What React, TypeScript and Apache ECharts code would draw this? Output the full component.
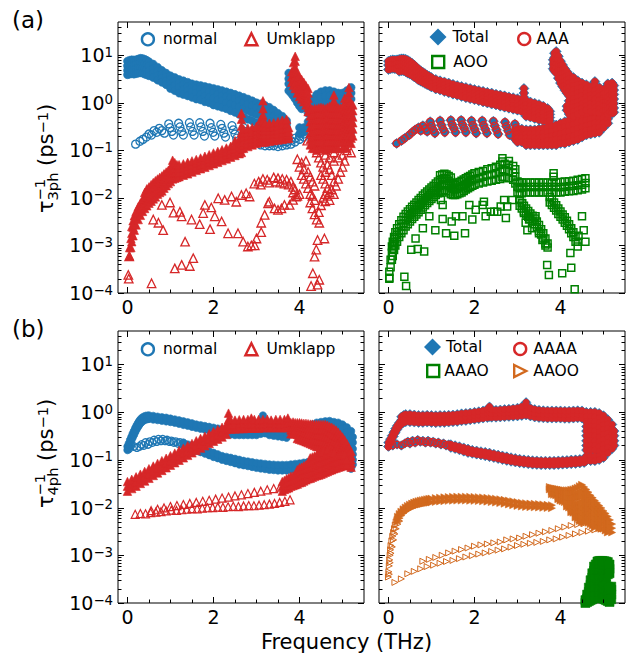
import React, { useEffect, useRef } from 'react';
import * as echarts from 'echarts';

const FONT = '"DejaVu Sans", sans-serif';
const BLUE = '#1f77b4';
const RED = '#d62728';
const GREEN = '#008000';
const ORANGE = '#d2691e';
const RTRI = 'path://M0,0L10,5L0,10Z';

const X_MIN = -0.22;
const X_MAX = 5.5;
const Y_MIN = 1e-4;
const Y_MAX = 50;
const xTickLabels = [0, 2, 4];
const xMinorTicks = [0.5, 1, 1.5, 2.5, 3, 3.5, 4.5, 5];
const yTickExponents = [-4, -3, -2, -1, 0, 1];
const yMinorMantissas = [2, 3, 4, 5, 6, 7, 8, 9];

// ---------- (a) left : 3ph normal / Umklapp ----------
const n3BandRows = [
  [0.0, 7.5, 6.0, 4.8, 3.9], [0.05, 7.8, 6.2, 5.0, 4.0], [0.1, 8.0, 6.5, 5.1, 4.1], [0.15, 7.9, 6.3, 5.0, 4.0],
  [0.2, 8.0, 6.5, 5.2, 4.1], [0.25, 8.3, 6.7, 5.4, 4.2], [0.3, 8.6, 7.0, 5.5, 4.3], [0.35, 8.5, 6.9, 5.4, 4.2],
  [0.4, 8.2, 6.7, 5.2, 4.0], [0.45, 7.8, 6.3, 5.0, 3.9], [0.5, 7.3, 6.0, 4.7, 3.7], [0.6, 6.5, 5.2, 4.2, 3.4],
  [0.7, 5.6, 4.6, 3.7, 3.0], [0.8, 4.8, 4.0, 3.3, 2.7], [0.9, 4.2, 3.5, 2.9, 2.4], [1.0, 3.7, 3.1, 2.5, 2.0],
  [1.1, 3.4, 2.8, 2.3, 1.8], [1.2, 3.1, 2.6, 2.1, 1.6], [1.3, 2.9, 2.4, 1.9, 1.5], [1.4, 2.7, 2.2, 1.8, 1.4],
  [1.5, 2.5, 2.1, 1.7, 1.3], [1.6, 2.4, 2.0, 1.6, 1.2], [1.7, 2.3, 1.9, 1.5, 1.15], [1.8, 2.2, 1.8, 1.4, 1.05],
  [1.9, 2.1, 1.7, 1.3, 1.0], [2.0, 2.0, 1.6, 1.25, 0.9], [2.1, 1.9, 1.5, 1.15, 0.85], [2.2, 1.8, 1.4, 1.1, 0.8],
  [2.3, 1.7, 1.35, 1.0, 0.75], [2.4, 1.6, 1.3, 0.95, 0.68], [2.5, 1.5, 1.2, 0.9, 0.63], [2.6, 1.4, 1.1, 0.82, 0.57],
  [2.7, 1.3, 1.0, 0.75, 0.5], [2.8, 1.2, 0.95, 0.68, 0.45], [2.9, 1.1, 0.88, 0.62, 0.42], [3.0, 1.0, 0.8, 0.57, 0.38],
  [3.1, 0.95, 0.72, 0.52, 0.35], [3.2, 0.88, 0.66, 0.47, 0.33], [3.3, 0.8, 0.6, 0.43, 0.31], [3.4, 0.7, 0.53, 0.4, 0.29],
  [3.5, 0.6, 0.47, 0.36, 0.27], [3.6, 0.52, 0.42, 0.33], [3.7, 0.42, 0.36, 0.3],
  [3.75, 4.2, 3.2, 2.5, 1.8], [3.8, 4.0, 3.0, 2.2, 1.6], [3.85, 3.5, 2.6, 1.9, 1.4], [3.9, 3.0, 2.2, 1.6, 1.2],
  [3.95, 2.5, 1.8, 1.3, 1.0], [4.0, 2.0, 1.5, 1.1, 0.85, 0.3, 0.22], [4.05, 1.6, 1.2, 0.9, 0.75],
  [4.1, 1.2, 0.95, 0.8, 0.3, 0.24], [4.2, 1.0, 0.8, 0.6, 0.4, 0.3], [4.3, 1.2, 0.9, 0.6, 0.4, 0.3],
  [4.4, 1.5, 1.1, 0.8, 0.55, 0.4, 0.3], [4.5, 1.7, 1.3, 0.9, 0.6, 0.4, 0.3], [4.6, 1.8, 1.4, 1.0, 0.7, 0.5, 0.35],
  [4.7, 1.8, 1.4, 1.0, 0.7, 0.5, 0.35, 0.25], [4.8, 1.7, 1.3, 0.9, 0.65, 0.45, 0.3], [4.9, 1.6, 1.2, 0.9, 0.6, 0.4, 0.3],
  [5.0, 1.6, 1.2, 0.9, 0.6, 0.4, 0.3], [5.1, 1.8, 1.4, 1.0, 0.7, 0.5, 0.35], [5.2, 2.1, 1.6, 1.2, 0.8, 0.5, 0.35, 0.25],
];
const n3LoosePts = [
  [0.19, 0.135], [0.29, 0.155], [0.36, 0.17], [0.44, 0.19], [0.5, 0.22], [0.56, 0.21], [0.62, 0.26], [0.68, 0.24],
  [0.74, 0.29], [0.8, 0.26], [0.86, 0.23], [0.96, 0.36], [0.99, 0.3], [1.03, 0.25], [1.07, 0.21], [1.19, 0.37],
  [1.22, 0.31], [1.26, 0.25], [1.3, 0.21], [1.44, 0.38], [1.47, 0.31], [1.51, 0.25], [1.55, 0.21], [1.68, 0.38],
  [1.71, 0.31], [1.75, 0.25], [1.79, 0.2], [1.92, 0.37], [1.95, 0.3], [1.99, 0.24], [2.03, 0.2], [2.17, 0.35],
  [2.2, 0.29], [2.24, 0.23], [2.28, 0.19], [2.43, 0.33], [2.46, 0.27], [2.5, 0.22], [2.54, 0.18], [2.7, 0.3],
  [2.73, 0.25], [2.77, 0.2], [2.81, 0.17], [2.93, 0.26], [2.96, 0.21], [3.0, 0.17], [3.04, 0.15], [3.1, 0.16],
  [3.1, 0.13], [3.2, 0.15], [3.2, 0.125], [3.3, 0.14], [3.3, 0.125], [3.4, 0.15], [3.4, 0.125], [3.5, 0.14],
  [3.5, 0.12], [3.6, 0.15], [3.6, 0.125], [3.7, 0.15], [3.7, 0.13], [3.8, 0.16], [3.8, 0.135], [3.9, 0.18],
  [3.9, 0.15], [4.0, 0.2], [4.0, 0.17], [4.1, 0.22], [4.1, 0.19],
];
const u3BandRows = [
  [0.05, 0.0006, 0.0009], [0.08, 0.0009, 0.0014], [0.1, 0.0012, 0.0018, 0.0025], [0.13, 0.0016, 0.0024, 0.0033],
  [0.16, 0.0021, 0.003, 0.0042], [0.2, 0.0027, 0.0038, 0.0052], [0.25, 0.0035, 0.0048, 0.0065], [0.3, 0.0043, 0.0058, 0.0078],
  [0.35, 0.0052, 0.007, 0.0092], [0.4, 0.006, 0.008, 0.0105, 0.013], [0.45, 0.0068, 0.009, 0.012, 0.0155],
  [0.5, 0.0077, 0.01, 0.013, 0.017], [0.55, 0.0085, 0.011, 0.0145, 0.019], [0.6, 0.0095, 0.0125, 0.016, 0.021],
  [0.65, 0.0105, 0.0135, 0.0175, 0.023], [0.7, 0.012, 0.015, 0.019, 0.025], [0.75, 0.013, 0.0165, 0.021, 0.027],
  [0.8, 0.014, 0.018, 0.023, 0.029], [0.85, 0.016, 0.02, 0.025, 0.032], [0.9, 0.018, 0.022, 0.028, 0.035],
  [0.95, 0.02, 0.025, 0.031, 0.038], [1.0, 0.022, 0.028, 0.035, 0.044], [1.05, 0.025, 0.032, 0.04, 0.05, 0.062],
  [1.1, 0.026, 0.033, 0.042, 0.055], [1.15, 0.027, 0.033, 0.041, 0.05], [1.2, 0.028, 0.034, 0.042, 0.05],
  [1.3, 0.03, 0.036, 0.044, 0.052], [1.4, 0.032, 0.039, 0.047, 0.056], [1.5, 0.035, 0.042, 0.05, 0.06],
  [1.6, 0.038, 0.045, 0.054, 0.064], [1.7, 0.041, 0.049, 0.058, 0.069], [1.8, 0.044, 0.053, 0.063, 0.075],
  [1.9, 0.048, 0.057, 0.068, 0.081], [2.0, 0.052, 0.062, 0.074, 0.088], [2.1, 0.056, 0.067, 0.08, 0.095],
  [2.2, 0.061, 0.073, 0.087, 0.103], [2.3, 0.066, 0.079, 0.094, 0.112], [2.4, 0.072, 0.086, 0.102, 0.122],
  [2.5, 0.078, 0.093, 0.11, 0.132, 0.16], [2.6, 0.085, 0.1, 0.12, 0.145, 0.175],
  [2.65, 0.09, 0.11, 0.14, 0.18, 0.24, 0.32, 0.45, 0.6], [2.7, 0.11, 0.13, 0.155, 0.19, 0.23, 0.28],
  [2.8, 0.12, 0.14, 0.165, 0.2, 0.24, 0.29], [2.9, 0.13, 0.15, 0.175, 0.21, 0.25, 0.3],
  [3.0, 0.14, 0.16, 0.185, 0.22, 0.26, 0.32], [3.1, 0.15, 0.17, 0.2, 0.24, 0.29, 0.35, 0.45],
  [3.15, 0.15, 0.18, 0.21, 0.26, 0.32, 0.42, 0.55, 0.75, 1.1], [3.2, 0.15, 0.18, 0.21, 0.26, 0.31, 0.38],
  [3.3, 0.155, 0.18, 0.21, 0.26, 0.31, 0.37], [3.4, 0.16, 0.185, 0.22, 0.26, 0.32, 0.38],
  [3.5, 0.165, 0.19, 0.225, 0.27, 0.33, 0.4], [3.6, 0.17, 0.195, 0.23, 0.28, 0.35, 0.43],
  [3.7, 0.175, 0.2, 0.24, 0.29, 0.36, 0.45], [3.75, 0.18, 0.21, 0.25, 0.3],
  [3.82, 4.5, 3.5, 2.7], [3.86, 7.0, 5.0, 4.0, 3.0, 2.3], [3.9, 9.5, 7.5, 5.5, 4.3, 3.4, 2.6, 2.0],
  [3.95, 4.2, 3.3, 2.6, 2.0, 1.6], [4.0, 3.6, 2.8, 2.2, 1.7, 1.35], [4.05, 3.1, 2.4, 1.9, 1.5, 1.2],
  [4.1, 2.7, 2.1, 1.65, 1.3, 1.05], [4.15, 2.3, 1.8, 1.45, 1.15, 0.9], [4.2, 2.0, 1.6, 1.25, 1.0, 0.8, 0.65],
  [4.25, 0.7, 0.53, 0.4, 0.3, 0.23, 0.17, 0.13], [4.3, 0.72, 0.55, 0.42, 0.32, 0.24, 0.18, 0.14, 0.11],
  [4.35, 0.75, 0.57, 0.43, 0.33, 0.25, 0.19, 0.14, 0.11], [4.4, 0.75, 0.57, 0.43, 0.33, 0.25, 0.19, 0.14, 0.1],
  [4.45, 0.78, 0.6, 0.45, 0.34, 0.26, 0.2, 0.15, 0.11], [4.5, 0.8, 0.6, 0.45, 0.34, 0.26, 0.2, 0.15, 0.11],
  [4.55, 0.78, 0.6, 0.45, 0.34, 0.26, 0.2, 0.15, 0.11], [4.6, 0.75, 0.57, 0.43, 0.33, 0.25, 0.19, 0.14, 0.1],
  [4.65, 0.8, 0.6, 0.45, 0.34, 0.26, 0.2, 0.15, 0.11], [4.7, 0.85, 0.64, 0.48, 0.36, 0.27, 0.2, 0.15, 0.11],
  [4.75, 0.8, 0.6, 0.45, 0.34, 0.26, 0.2, 0.15, 0.11], [4.8, 1.45, 1.1, 0.8, 0.6, 0.45, 0.34, 0.26, 0.2, 0.15, 0.11],
  [4.85, 0.8, 0.6, 0.45, 0.34, 0.26, 0.2, 0.15, 0.11], [4.9, 0.78, 0.6, 0.45, 0.34, 0.26, 0.2, 0.15, 0.11],
  [4.95, 0.78, 0.6, 0.45, 0.34, 0.26, 0.2, 0.15], [5.0, 0.8, 0.6, 0.45, 0.34, 0.26, 0.2, 0.15, 0.11],
  [5.05, 1.25, 0.95, 0.72, 0.55, 0.42, 0.32, 0.24, 0.18, 0.13], [5.1, 0.85, 0.64, 0.48, 0.36, 0.27, 0.2, 0.15, 0.11],
  [5.15, 2.1, 1.6, 1.2, 0.9, 0.68, 0.5, 0.38, 0.28, 0.2, 0.15], [5.2, 1.0, 0.75, 0.56, 0.42, 0.32, 0.24, 0.18, 0.14],
  [5.24, 0.9, 0.68, 0.5, 0.38, 0.28, 0.2],
];
const u3LoosePts = [
  [0.02, 0.00024], [0.03, 0.0002], [0.04, 0.00059], [0.56, 0.00016], [0.6, 0.0035], [0.72, 0.003], [0.8, 0.0071],
  [0.83, 0.0021], [0.99, 0.008], [1.07, 0.0049], [1.1, 0.00033], [1.22, 0.0051], [1.26, 0.0041], [1.26, 0.00039],
  [1.34, 0.0012], [1.45, 0.00037], [1.49, 0.0035], [1.53, 0.00054], [1.68, 0.0028], [1.76, 0.0048], [1.8, 0.0071],
  [1.92, 0.0022], [1.95, 0.0063], [2.03, 0.0041], [2.11, 0.0098], [2.19, 0.0032], [2.26, 0.0091], [2.34, 0.0018],
  [2.42, 0.0107], [2.53, 0.0083], [2.57, 0.0018], [2.65, 0.0115], [2.69, 0.0012], [2.76, 0.0125], [2.8, 0.00095],
  [2.84, 0.0107], [2.88, 0.001], [2.96, 0.001], [3.0, 0.0014], [3.11, 0.003], [3.11, 0.0019], [3.19, 0.0044],
  [3.27, 0.0077], [3.3, 0.0083], [3.42, 0.006], [3.5, 0.0056], [3.58, 0.006], [3.65, 0.0071], [3.77, 0.0071],
  [3.85, 0.0091], [3.92, 0.0107], [4.31, 0.00026], [4.35, 0.00058], [4.39, 0.00082], [4.42, 0.0013], [4.46, 0.003],
  [4.58, 0.0014], [4.46, 0.00019], [4.27, 0.00014], [4.42, 0.00015],
  [2.95, 0.02], [3.05, 0.022], [3.1, 0.019], [3.15, 0.025], [3.25, 0.024], [3.3, 0.021], [3.4, 0.027], [3.45, 0.022],
  [3.5, 0.026], [3.55, 0.021], [3.6, 0.025], [3.65, 0.02], [3.7, 0.024], [3.75, 0.019], [3.8, 0.022], [3.85, 0.017],
  [3.85, 0.013], [3.9, 0.015], [3.95, 0.011], [4.0, 0.012], [3.95, 0.065], [4.0, 0.045], [4.05, 0.055], [4.1, 0.04],
  [4.15, 0.06], [4.2, 0.035], [4.05, 0.03], [4.1, 0.025], [4.15, 0.02], [4.2, 0.016], [4.25, 0.028], [4.3, 0.022],
  [4.35, 0.018], [4.25, 0.012], [4.3, 0.011], [4.35, 0.009], [4.4, 0.09], [4.45, 0.07], [4.5, 0.055], [4.55, 0.045],
  [4.6, 0.035], [4.5, 0.03], [4.55, 0.025], [4.6, 0.02], [4.65, 0.016], [4.7, 0.013], [4.65, 0.05], [4.7, 0.04],
  [4.75, 0.03], [4.8, 0.022], [4.6, 0.012], [4.7, 0.009], [4.6, 0.08], [4.7, 0.07], [4.8, 0.06], [4.9, 0.07],
  [4.8, 0.09], [5.0, 0.08], [5.1, 0.1], [5.2, 0.09], [4.18, 0.16], [4.3, 0.006], [4.35, 0.0045], [4.25, 0.008],
  [4.4, 0.0035], [4.45, 0.005], [4.5, 0.007], [4.55, 0.01], [4.6, 0.0085], [4.65, 0.011], [4.75, 0.015], [4.8, 0.012],
  [4.85, 0.018], [4.9, 0.025], [4.95, 0.035], [5.0, 0.045], [5.05, 0.06],
];

// ---------- (a) right : Total / AAA / AOO ----------
const aaaBandRows = [
  [0.0, 7.5, 6.2, 5.0], [0.05, 7.8, 6.4, 5.2], [0.1, 8.0, 6.5, 5.3], [0.15, 7.9, 6.4, 5.2], [0.2, 8.0, 6.6, 5.4],
  [0.25, 8.2, 6.8, 5.6, 4.6], [0.3, 8.4, 7.0, 5.8, 4.7], [0.35, 8.4, 7.0, 5.8, 4.7], [0.4, 8.2, 6.8, 5.5, 4.5],
  [0.45, 7.8, 6.4, 5.2, 4.2], [0.5, 7.3, 6.0, 4.9, 4.0], [0.55, 6.8, 5.6, 4.6, 3.8], [0.6, 6.2, 5.1, 4.2, 3.5],
  [0.65, 5.6, 4.7, 3.9, 3.3], [0.7, 5.1, 4.3, 3.6, 3.0], [0.75, 4.7, 4.0, 3.4, 2.85], [0.8, 4.4, 3.7, 3.2, 2.7],
  [0.85, 4.1, 3.5, 3.0, 2.55], [0.9, 3.8, 3.3, 2.8, 2.4], [0.95, 3.6, 3.1, 2.65, 2.3], [1.0, 3.4, 2.95, 2.5, 2.15],
  [1.1, 3.1, 2.7, 2.3, 1.95], [1.2, 2.9, 2.5, 2.15, 1.85], [1.3, 2.75, 2.35, 2.0, 1.72], [1.4, 2.6, 2.2, 1.9, 1.62],
  [1.5, 2.45, 2.1, 1.8, 1.52], [1.6, 2.3, 1.98, 1.7, 1.44], [1.7, 2.2, 1.88, 1.6, 1.36], [1.8, 2.1, 1.78, 1.52, 1.28],
  [1.9, 2.0, 1.7, 1.44, 1.22], [2.0, 1.9, 1.62, 1.37, 1.16], [2.1, 1.82, 1.55, 1.3, 1.1], [2.2, 1.74, 1.48, 1.24, 1.04],
  [2.3, 1.66, 1.41, 1.18, 0.99], [2.4, 1.6, 1.35, 1.13, 0.94], [2.5, 1.52, 1.28, 1.07, 0.9], [2.6, 1.46, 1.22, 1.02, 0.85],
  [2.7, 1.4, 1.17, 0.98, 0.81], [2.8, 1.33, 1.11, 0.93, 0.77], [2.9, 1.28, 1.06, 0.88, 0.73], [3.0, 1.22, 1.01, 0.84, 0.7],
  [3.1, 1.16, 0.96, 0.8, 0.66], [3.15, 2.0, 1.6, 1.3, 1.05, 0.85], [3.2, 1.1, 0.91, 0.76, 0.63, 0.52],
  [3.3, 1.04, 0.86, 0.72, 0.6, 0.5], [3.4, 0.98, 0.81, 0.68, 0.56, 0.47], [3.5, 0.92, 0.76, 0.64, 0.53, 0.44],
  [3.6, 0.85, 0.71, 0.6, 0.5, 0.42], [3.7, 0.76, 0.65, 0.55, 0.47, 0.4], [3.75, 0.66, 0.57, 0.49, 0.42],
  [2.95, 0.26, 0.21, 0.17], [3.0, 0.28, 0.22, 0.18, 0.15], [3.1, 0.28, 0.22, 0.18, 0.15], [3.2, 0.27, 0.22, 0.18, 0.15, 0.13],
  [3.3, 0.27, 0.22, 0.18, 0.15, 0.13], [3.4, 0.27, 0.22, 0.18, 0.15, 0.13], [3.5, 0.28, 0.23, 0.18, 0.15, 0.13],
  [3.6, 0.29, 0.23, 0.19, 0.15, 0.13], [3.7, 0.3, 0.24, 0.19, 0.16, 0.13], [3.8, 0.32, 0.25, 0.2, 0.16, 0.13],
  [3.9, 0.34, 0.27, 0.21, 0.17, 0.13], [4.0, 0.37, 0.29, 0.22, 0.17, 0.14], [4.1, 0.4, 0.31, 0.24, 0.18, 0.14],
  [4.2, 0.43, 0.33, 0.25, 0.19, 0.15], [4.3, 0.46, 0.35, 0.27, 0.2, 0.16], [4.4, 0.5, 0.38, 0.29, 0.22, 0.17],
  [4.5, 0.53, 0.41, 0.31, 0.24, 0.19], [4.6, 0.56, 0.43, 0.33, 0.26, 0.21], [4.7, 0.58, 0.45, 0.35, 0.27, 0.22],
  [4.8, 0.6, 0.47, 0.37, 0.29, 0.23], [4.9, 0.6, 0.48, 0.38, 0.3, 0.24], [5.0, 0.6, 0.48, 0.38, 0.3], [5.1, 0.58, 0.46, 0.37],
  [3.83, 8.0, 6.5, 5.2], [3.86, 11.0, 9.0, 7.2, 5.8, 4.7], [3.9, 12.0, 9.8, 8.0, 6.5, 5.3, 4.3],
  [3.95, 9.5, 7.7, 6.2, 5.0, 4.0, 3.3], [4.0, 7.5, 6.0, 4.9, 4.0, 3.2, 2.6], [4.05, 6.2, 5.0, 4.1, 3.3, 2.7, 2.2],
  [4.1, 5.2, 4.2, 3.4, 2.8, 2.3, 1.85], [4.15, 4.5, 3.7, 3.0, 2.4, 2.0, 1.6, 0.85, 0.7],
  [4.2, 3.9, 3.2, 2.6, 2.1, 1.7, 1.4, 1.1, 0.9, 0.72, 0.58], [4.3, 3.4, 2.8, 2.25, 1.85, 1.5, 1.2, 0.98, 0.8, 0.65, 0.52],
  [4.4, 2.9, 2.4, 1.95, 1.6, 1.3, 1.05, 0.85, 0.7, 0.57], [4.5, 2.6, 2.1, 1.75, 1.42, 1.15, 0.94, 0.77, 0.63],
  [4.6, 2.4, 1.95, 1.6, 1.3, 1.05, 0.86, 0.7], [4.7, 2.2, 1.8, 1.45, 1.2, 0.97, 0.79, 0.65],
  [4.8, 2.8, 2.25, 1.8, 1.45, 1.18, 0.96, 0.78, 0.64], [4.9, 2.1, 1.7, 1.4, 1.13, 0.92, 0.75, 0.62],
  [5.0, 1.9, 1.55, 1.27, 1.03, 0.84, 0.69], [5.05, 2.0, 1.6, 1.3, 1.05, 0.86, 0.7],
  [5.1, 2.5, 2.0, 1.6, 1.3, 1.06, 0.86, 0.7, 0.57], [5.15, 2.2, 1.8, 1.45, 1.2, 0.97, 0.79, 0.64],
  [5.2, 2.6, 2.1, 1.7, 1.4, 1.12, 0.9, 0.73, 0.6], [5.24, 2.3, 1.85, 1.5, 1.2, 0.97, 0.78, 0.63],
];
const aaaChainPts = [
  [0.19, 0.14], [0.3, 0.16], [0.38, 0.18], [0.48, 0.21], [0.55, 0.24], [0.62, 0.27], [0.7, 0.3], [0.75, 0.26],
  [0.8, 0.33], [0.86, 0.29], [0.9, 0.25], [0.97, 0.4], [1.0, 0.33], [1.04, 0.27], [1.08, 0.23], [1.2, 0.42],
  [1.23, 0.34], [1.27, 0.28], [1.31, 0.24], [1.45, 0.43], [1.48, 0.35], [1.52, 0.29], [1.56, 0.24], [1.69, 0.43],
  [1.72, 0.35], [1.76, 0.29], [1.8, 0.24], [1.93, 0.42], [1.96, 0.34], [2.0, 0.28], [2.04, 0.23], [2.18, 0.42],
  [2.21, 0.34], [2.25, 0.28], [2.29, 0.23], [2.44, 0.41], [2.47, 0.33], [2.51, 0.27], [2.55, 0.22], [2.71, 0.39],
  [2.74, 0.32], [2.78, 0.26], [2.82, 0.21], [2.94, 0.36], [2.97, 0.3], [3.0, 0.25],
];
const aooBandRows = [
  [0.02, 0.0002, 0.00028], [0.05, 0.00035, 0.0005], [0.08, 0.0005, 0.0007, 0.00095], [0.1, 0.0006, 0.00085, 0.0012],
  [0.13, 0.0008, 0.0011, 0.0015], [0.16, 0.001, 0.0014, 0.0019], [0.2, 0.0012, 0.0017, 0.0023], [0.25, 0.0015, 0.002, 0.0028],
  [0.3, 0.0018, 0.0025, 0.0034], [0.35, 0.0021, 0.0029, 0.004], [0.4, 0.0025, 0.0034, 0.0046], [0.45, 0.0028, 0.0038, 0.0052],
  [0.5, 0.0032, 0.0043, 0.0058], [0.55, 0.0036, 0.0048, 0.0065], [0.6, 0.004, 0.0054, 0.0072], [0.65, 0.0045, 0.006, 0.008],
  [0.7, 0.005, 0.0067, 0.009], [0.75, 0.0056, 0.0075, 0.01], [0.8, 0.0063, 0.0084, 0.0112], [0.85, 0.007, 0.0093, 0.0124],
  [0.9, 0.0078, 0.0103, 0.0137], [0.95, 0.0086, 0.0114, 0.015], [1.0, 0.0095, 0.0125, 0.0165], [1.05, 0.0105, 0.0138, 0.018],
  [1.1, 0.0115, 0.015, 0.02], [1.15, 0.0125, 0.0165, 0.022], [1.2, 0.0135, 0.018, 0.024, 0.03], [1.25, 0.014, 0.019, 0.025, 0.031],
  [1.3, 0.0145, 0.0195, 0.026, 0.032], [1.35, 0.014, 0.019, 0.025, 0.031], [1.4, 0.013, 0.0175, 0.023, 0.029],
  [1.45, 0.012, 0.016, 0.021, 0.027], [1.5, 0.0115, 0.0155, 0.02], [1.55, 0.0115, 0.015, 0.019], [1.6, 0.012, 0.0155, 0.02],
  [1.65, 0.0125, 0.0165, 0.0215], [1.7, 0.013, 0.0175, 0.023], [1.75, 0.014, 0.0185, 0.0245], [1.8, 0.015, 0.0195, 0.026],
  [1.85, 0.016, 0.021, 0.0275], [1.9, 0.017, 0.022, 0.029], [1.95, 0.018, 0.0235, 0.031], [2.0, 0.019, 0.025, 0.033],
  [2.1, 0.02, 0.026, 0.035], [2.2, 0.021, 0.028, 0.037], [2.3, 0.022, 0.03, 0.04], [2.4, 0.023, 0.031, 0.042],
  [2.5, 0.024, 0.033, 0.045], [2.6, 0.025, 0.035, 0.05], [2.65, 0.028, 0.04, 0.058, 0.068], [2.7, 0.027, 0.038, 0.052],
  [2.8, 0.026, 0.036, 0.05, 0.06], [2.9, 0.024, 0.034, 0.047], [2.95, 0.02, 0.028, 0.04], [3.0, 0.013, 0.017, 0.022],
  [3.05, 0.012, 0.016, 0.021], [3.1, 0.0125, 0.0165, 0.021], [3.2, 0.013, 0.017, 0.021], [3.3, 0.013, 0.017, 0.021],
  [3.4, 0.013, 0.017, 0.021], [3.5, 0.013, 0.017, 0.021], [3.6, 0.013, 0.017, 0.021], [3.7, 0.013, 0.017, 0.021],
  [3.8, 0.013, 0.017, 0.021], [3.9, 0.013, 0.017, 0.021], [4.0, 0.013, 0.0168, 0.0215], [4.1, 0.0135, 0.0172, 0.022],
  [4.2, 0.0138, 0.0176, 0.0225], [4.3, 0.014, 0.018, 0.023], [4.4, 0.0145, 0.0185, 0.024], [4.5, 0.015, 0.019, 0.025],
  [4.58, 0.016, 0.0205, 0.026],
  [3.05, 0.009, 0.0068], [3.1, 0.0078, 0.006], [3.15, 0.0068, 0.0052], [3.2, 0.006, 0.0045], [3.25, 0.0053, 0.004],
  [3.3, 0.0047, 0.0036], [3.35, 0.0042, 0.0032], [3.4, 0.0037, 0.0028], [3.45, 0.0032, 0.0024], [3.5, 0.0027, 0.002],
  [3.55, 0.0022, 0.0017], [3.6, 0.0018, 0.0014], [3.65, 0.0014, 0.0011], [3.7, 0.0011, 0.0009],
  [3.75, 0.0105, 0.008], [3.8, 0.0092, 0.0071], [3.85, 0.008, 0.0062], [3.9, 0.007, 0.0054], [3.95, 0.006, 0.0046],
  [4.0, 0.0052, 0.004], [4.05, 0.0045, 0.0035], [4.1, 0.0039, 0.003], [4.15, 0.0033, 0.0026], [4.2, 0.0028, 0.0022],
  [4.25, 0.0023, 0.0018], [4.3, 0.0019, 0.0015], [4.35, 0.0015, 0.0012], [4.4, 0.0012, 0.00095],
];
const aooLoosePts = [
  [0.02, 0.00021], [0.37, 0.00022], [0.41, 0.00014], [0.53, 0.00081], [0.68, 0.00084], [0.83, 0.00075], [0.63, 0.0014],
  [0.8, 0.0023], [0.95, 0.0041], [1.09, 0.0021], [1.26, 0.0036], [1.34, 0.0018], [1.47, 0.0032], [1.53, 0.0016],
  [1.22, 0.009], [1.26, 0.0071], [1.57, 0.0041], [1.72, 0.0041], [1.78, 0.0018], [1.88, 0.0071], [1.95, 0.0035],
  [2.03, 0.0056], [2.19, 0.0071], [2.22, 0.0083], [2.26, 0.0041], [2.38, 0.0051], [2.46, 0.0051], [2.53, 0.0051],
  [2.61, 0.0066], [2.69, 0.009], [2.76, 0.0066], [2.88, 0.009], [2.73, 0.0038], [3.11, 0.0077], [3.15, 0.0048],
  [3.19, 0.003], [3.23, 0.0021], [3.27, 0.0035], [3.34, 0.0023], [3.42, 0.0041], [3.5, 0.0018], [3.58, 0.0013],
  [3.65, 0.001], [3.69, 0.00039], [3.73, 0.00024], [3.84, 0.028], [3.84, 0.033], [4.04, 0.00026], [4.25, 0.00034],
  [4.33, 0.00012], [4.23, 0.00069], [4.42, 0.0016], [4.5, 0.0041], [4.54, 0.0021], [4.58, 0.0012],
];

// ---------- (b) left : 4ph normal / Umklapp ----------
const n4BandRows = [
  [0.0, 0.16, 0.19], [0.03, 0.18, 0.22], [0.06, 0.21, 0.26], [0.09, 0.25, 0.3], [0.12, 0.29, 0.35], [0.15, 0.33, 0.4],
  [0.18, 0.38, 0.46], [0.21, 0.43, 0.52], [0.24, 0.48, 0.58], [0.27, 0.53, 0.64], [0.3, 0.58, 0.7], [0.34, 0.63, 0.76],
  [0.38, 0.67, 0.8], [0.42, 0.7, 0.83], [0.46, 0.71, 0.84], [0.5, 0.72, 0.85], [0.6, 0.7, 0.83], [0.7, 0.68, 0.8],
  [0.8, 0.66, 0.78], [0.9, 0.64, 0.76], [1.0, 0.62, 0.73], [1.1, 0.6, 0.7], [1.2, 0.57, 0.67], [1.3, 0.54, 0.64],
  [1.4, 0.52, 0.61], [1.5, 0.49, 0.58], [1.6, 0.47, 0.55], [1.7, 0.45, 0.53], [1.8, 0.43, 0.51], [1.9, 0.41, 0.49],
  [2.0, 0.39, 0.47], [2.1, 0.37, 0.45], [2.2, 0.36, 0.43], [2.3, 0.35, 0.42], [2.4, 0.34, 0.41], [2.5, 0.33, 0.4],
  [2.6, 0.33, 0.4], [2.7, 0.33, 0.4], [2.8, 0.33, 0.4], [2.9, 0.33, 0.4], [3.0, 0.33, 0.41], [3.1, 0.35, 0.45, 0.58],
  [3.15, 0.4, 0.55, 0.72, 0.85], [3.2, 0.36, 0.46, 0.6], [3.3, 0.33, 0.41], [3.4, 0.32, 0.4], [3.5, 0.31, 0.39],
  [3.6, 0.3, 0.38], [3.7, 0.29, 0.37],
  [4.3, 0.55, 0.45], [4.4, 0.6, 0.5, 0.4], [4.5, 0.62, 0.5, 0.4], [4.6, 0.64, 0.52, 0.4, 0.3], [4.7, 0.65, 0.52, 0.4, 0.3],
  [4.8, 0.62, 0.5, 0.38, 0.28, 0.2], [4.9, 0.6, 0.48, 0.36, 0.27, 0.2, 0.15], [5.0, 0.55, 0.45, 0.34, 0.25, 0.19, 0.14, 0.1],
  [5.1, 0.48, 0.38, 0.3, 0.23, 0.17, 0.13, 0.1, 0.075], [5.2, 0.4, 0.32, 0.25, 0.19, 0.14, 0.1, 0.08, 0.065],
  [5.24, 0.3, 0.23, 0.17, 0.13, 0.1, 0.08],
  [1.3, 0.2, 0.23], [1.4, 0.18, 0.21], [1.5, 0.17, 0.2], [1.6, 0.155, 0.185], [1.7, 0.145, 0.17], [1.8, 0.135, 0.16],
  [1.9, 0.125, 0.15], [2.0, 0.115, 0.14], [2.1, 0.108, 0.13], [2.2, 0.1, 0.12], [2.3, 0.095, 0.115], [2.4, 0.09, 0.11],
  [2.5, 0.085, 0.105], [2.6, 0.08, 0.1], [2.7, 0.077, 0.095], [2.8, 0.074, 0.092], [2.9, 0.071, 0.089], [3.0, 0.068, 0.086],
  [3.1, 0.066, 0.084], [3.2, 0.064, 0.082], [3.3, 0.062, 0.08], [3.4, 0.061, 0.079], [3.5, 0.06, 0.078], [3.6, 0.06, 0.078],
  [3.7, 0.06, 0.078], [3.8, 0.061, 0.08], [3.9, 0.062, 0.082], [4.0, 0.064, 0.084], [4.1, 0.066, 0.087], [4.2, 0.068, 0.09],
  [4.3, 0.07, 0.093], [4.4, 0.072, 0.096], [4.5, 0.074, 0.1], [4.6, 0.076, 0.1], [4.7, 0.078, 0.1],
];
const n4LoosePts = [
  [0.03, 0.17], [0.08, 0.2], [0.15, 0.19], [0.22, 0.18], [0.28, 0.19], [0.33, 0.21], [0.38, 0.2], [0.42, 0.23],
  [0.48, 0.21], [0.52, 0.24], [0.58, 0.23], [0.62, 0.26], [0.68, 0.24], [0.72, 0.27], [0.78, 0.25], [0.82, 0.27],
  [0.88, 0.25], [0.92, 0.26], [0.98, 0.24], [1.02, 0.25], [1.08, 0.23], [1.12, 0.24], [1.18, 0.22], [1.22, 0.23],
  [1.28, 0.21],
];
const u4BandRows = [
  [0.0, 0.022, 0.028, 0.035], [0.1, 0.025, 0.031, 0.039], [0.2, 0.028, 0.035, 0.044], [0.3, 0.032, 0.04, 0.05],
  [0.4, 0.036, 0.045, 0.057], [0.5, 0.041, 0.052, 0.065], [0.6, 0.047, 0.059, 0.074], [0.7, 0.053, 0.067, 0.084],
  [0.8, 0.06, 0.076, 0.096], [0.9, 0.068, 0.086, 0.108], [1.0, 0.077, 0.097, 0.122], [1.1, 0.087, 0.11, 0.138],
  [1.2, 0.098, 0.124, 0.156], [1.3, 0.11, 0.139, 0.175], [1.4, 0.124, 0.156, 0.197], [1.5, 0.14, 0.176, 0.22],
  [1.6, 0.157, 0.198, 0.25], [1.7, 0.176, 0.222, 0.28], [1.8, 0.197, 0.248, 0.31], [1.9, 0.22, 0.277, 0.35],
  [2.0, 0.245, 0.31, 0.39], [2.1, 0.27, 0.34, 0.43], [2.2, 0.3, 0.38, 0.48], [2.3, 0.34, 0.43, 0.55],
  [2.35, 0.45, 0.56, 0.7, 0.95], [2.4, 0.44, 0.55, 0.68], [2.5, 0.44, 0.55, 0.68], [2.6, 0.45, 0.56, 0.69],
  [2.7, 0.45, 0.56, 0.7], [2.8, 0.46, 0.57, 0.7], [2.88, 0.46, 0.58, 0.75], [2.95, 0.46, 0.57, 0.7], [3.05, 0.46, 0.57, 0.7],
  [3.15, 0.47, 0.58, 0.7], [3.25, 0.47, 0.58, 0.71], [3.34, 0.47, 0.59, 0.68], [3.45, 0.47, 0.58, 0.7],
  [3.55, 0.47, 0.58, 0.7], [3.65, 0.47, 0.58, 0.7], [3.73, 0.47, 0.6, 0.75],
  [3.8, 0.6, 0.5, 0.42, 0.35], [3.85, 0.62, 0.5, 0.42, 0.35], [3.9, 0.6, 0.5, 0.42, 0.35], [3.95, 0.6, 0.5, 0.41, 0.34, 0.28],
  [4.0, 0.6, 0.5, 0.4, 0.33, 0.27], [4.05, 0.59, 0.49, 0.39, 0.31, 0.26], [4.1, 0.58, 0.48, 0.38, 0.3, 0.25],
  [4.15, 0.58, 0.47, 0.37, 0.29, 0.24], [4.2, 0.57, 0.46, 0.36, 0.28, 0.23], [4.25, 0.56, 0.45, 0.35, 0.28, 0.22],
  [4.3, 0.56, 0.44, 0.34, 0.27, 0.21], [4.35, 0.55, 0.44, 0.34, 0.26, 0.2], [4.4, 0.55, 0.43, 0.33, 0.25, 0.19],
  [4.45, 0.55, 0.43, 0.33, 0.25, 0.19, 0.15], [4.5, 0.55, 0.42, 0.32, 0.24, 0.18, 0.14], [4.55, 0.55, 0.42, 0.32, 0.24, 0.18, 0.14],
  [4.6, 0.55, 0.42, 0.31, 0.23, 0.17, 0.13], [4.65, 0.53, 0.4, 0.3, 0.22, 0.17, 0.13], [4.7, 0.5, 0.38, 0.28, 0.21, 0.16, 0.12],
  [4.75, 0.48, 0.36, 0.27, 0.2, 0.15, 0.12], [4.8, 0.45, 0.34, 0.25, 0.19, 0.15, 0.11], [4.85, 0.42, 0.32, 0.24, 0.18, 0.14, 0.11],
  [4.9, 0.38, 0.3, 0.23, 0.17, 0.13, 0.1], [4.95, 0.34, 0.27, 0.21, 0.16, 0.12, 0.095], [5.0, 0.3, 0.24, 0.18, 0.14, 0.11, 0.09],
  [5.05, 0.26, 0.2, 0.16, 0.12, 0.095], [5.1, 0.22, 0.17, 0.13, 0.1, 0.08], [5.15, 0.18, 0.14, 0.11, 0.09, 0.075],
  [5.2, 0.15, 0.12, 0.1, 0.085, 0.07],
  [3.6, 0.022, 0.028, 0.035], [3.65, 0.024, 0.03, 0.037], [3.7, 0.025, 0.032, 0.04], [3.75, 0.026, 0.033, 0.042],
  [3.8, 0.028, 0.035, 0.045], [3.85, 0.029, 0.036, 0.046], [3.9, 0.03, 0.038, 0.048], [3.95, 0.031, 0.04, 0.05, 0.062],
  [4.0, 0.033, 0.042, 0.053, 0.068], [4.05, 0.034, 0.044, 0.055, 0.07], [4.1, 0.036, 0.046, 0.058, 0.075],
  [4.15, 0.038, 0.048, 0.061, 0.078], [4.2, 0.04, 0.05, 0.064, 0.083], [4.25, 0.041, 0.052, 0.067, 0.086, 0.11],
  [4.3, 0.043, 0.055, 0.07, 0.09, 0.115], [4.35, 0.045, 0.057, 0.073, 0.094, 0.12], [4.4, 0.047, 0.06, 0.077, 0.1, 0.125],
  [4.45, 0.048, 0.062, 0.08, 0.104, 0.13], [4.5, 0.05, 0.065, 0.085, 0.11, 0.14], [4.55, 0.052, 0.067, 0.088, 0.115, 0.15],
  [4.6, 0.055, 0.07, 0.092, 0.12], [4.65, 0.057, 0.073, 0.096, 0.125, 0.16], [4.7, 0.06, 0.077, 0.1, 0.13],
  [4.75, 0.062, 0.08, 0.105, 0.135], [4.8, 0.065, 0.085, 0.11, 0.14], [4.85, 0.067, 0.087, 0.115], [4.9, 0.07, 0.09, 0.12],
  [4.95, 0.072, 0.095, 0.125], [5.0, 0.075, 0.1, 0.13], [5.05, 0.077, 0.1, 0.13], [5.1, 0.08, 0.1],
];
const u4LoosePts = [
  [0.18, 0.0072], [0.3, 0.0075], [0.42, 0.0074], [0.54, 0.0078], [0.66, 0.008], [0.78, 0.0082], [0.9, 0.0085],
  [1.02, 0.0088], [1.14, 0.0087], [1.26, 0.009], [1.38, 0.0092], [1.5, 0.0095], [1.62, 0.0094], [1.74, 0.0097],
  [1.86, 0.0099], [1.98, 0.01], [2.1, 0.0102], [2.22, 0.0101], [2.34, 0.0104], [2.46, 0.0106], [2.58, 0.0105],
  [2.7, 0.0108], [2.82, 0.011], [2.94, 0.0109], [3.06, 0.0112], [3.18, 0.0115], [3.3, 0.0118], [3.42, 0.0122],
  [3.54, 0.0128], [3.66, 0.0135], [3.78, 0.0145],
  [0.55, 0.0086], [0.7, 0.0092], [0.85, 0.0098], [1.0, 0.0105], [1.15, 0.011], [1.3, 0.0116], [1.45, 0.0122],
  [1.6, 0.0128], [1.75, 0.0135], [1.9, 0.0142], [2.05, 0.015], [2.2, 0.0158], [2.35, 0.0166], [2.5, 0.0175],
  [2.65, 0.0185], [2.8, 0.0196], [2.95, 0.0208], [3.1, 0.022], [3.25, 0.0235], [3.4, 0.025], [3.55, 0.0268],
];

// ---------- (b) right : Total / AAAA / AAAO / AAOO ----------
const aaaaBandRows = [
  [0.0, 0.19, 0.23], [0.04, 0.22, 0.27], [0.08, 0.26, 0.32], [0.12, 0.31, 0.38], [0.16, 0.37, 0.45], [0.2, 0.43, 0.52],
  [0.25, 0.5, 0.6], [0.3, 0.56, 0.68, 0.8], [0.35, 0.6, 0.72, 0.86], [0.4, 0.62, 0.75, 0.9], [0.5, 0.62, 0.75, 0.9],
  [0.6, 0.61, 0.74, 0.88], [0.7, 0.6, 0.72, 0.86], [0.8, 0.6, 0.72, 0.86], [0.9, 0.61, 0.73, 0.87], [1.0, 0.6, 0.72, 0.86],
  [1.1, 0.59, 0.71, 0.85], [1.2, 0.6, 0.72, 0.86], [1.3, 0.6, 0.72, 0.86], [1.4, 0.61, 0.73, 0.87], [1.5, 0.62, 0.74, 0.88],
  [1.6, 0.63, 0.76, 0.9], [1.7, 0.65, 0.78, 0.93], [1.8, 0.66, 0.79, 0.95], [1.9, 0.68, 0.81, 0.97], [2.0, 0.7, 0.84, 1.0],
  [2.1, 0.72, 0.86, 1.03], [2.2, 0.74, 0.89, 1.07], [2.3, 0.76, 0.92, 1.15], [2.35, 0.8, 1.0, 1.3], [2.4, 0.77, 0.93, 1.12],
  [2.5, 0.77, 0.93, 1.1], [2.6, 0.78, 0.94, 1.12], [2.7, 0.79, 0.95, 1.14], [2.8, 0.8, 0.97, 1.16], [2.9, 0.81, 0.98, 1.18],
  [3.0, 0.82, 1.0, 1.22], [3.1, 0.84, 1.03, 1.3], [3.2, 0.86, 1.08, 1.4, 1.6], [3.3, 0.82, 1.0, 1.22], [3.4, 0.78, 0.95, 1.14],
  [3.5, 0.76, 0.92, 1.1], [3.6, 0.75, 0.9, 1.08], [3.7, 0.74, 0.89, 1.07], [3.8, 0.74, 0.89, 1.07], [3.9, 0.74, 0.89, 1.07],
  [4.0, 0.74, 0.89, 1.07], [4.1, 0.73, 0.88, 1.06], [4.2, 0.73, 0.88, 1.06], [4.3, 0.74, 0.89, 1.07], [4.4, 0.75, 0.9, 1.08],
  [4.5, 0.74, 0.89, 1.07],
  [4.6, 1.0, 0.8, 0.63, 0.5, 0.4, 0.32, 0.25, 0.2, 0.16, 0.12, 0.095], [4.7, 1.0, 0.8, 0.63, 0.5, 0.4, 0.32, 0.25, 0.2, 0.16, 0.12, 0.095],
  [4.8, 1.0, 0.8, 0.63, 0.5, 0.4, 0.32, 0.25, 0.2, 0.16, 0.12, 0.095], [4.9, 0.95, 0.76, 0.6, 0.48, 0.38, 0.3, 0.24, 0.19, 0.15, 0.12, 0.1],
  [5.0, 0.85, 0.68, 0.54, 0.43, 0.34, 0.27, 0.21, 0.17, 0.13, 0.11], [5.1, 0.7, 0.56, 0.45, 0.36, 0.29, 0.23, 0.18, 0.14],
  [5.2, 0.55, 0.44, 0.35, 0.28, 0.22, 0.17], [5.25, 0.4, 0.32, 0.25, 0.2],
  [1.45, 0.18, 0.21], [1.55, 0.17, 0.2], [1.65, 0.16, 0.19], [1.75, 0.15, 0.18], [1.85, 0.14, 0.17], [1.95, 0.135, 0.16],
  [2.05, 0.13, 0.155], [2.15, 0.125, 0.15], [2.25, 0.12, 0.145], [2.35, 0.115, 0.14], [2.45, 0.11, 0.133], [2.55, 0.105, 0.127],
  [2.65, 0.1, 0.122], [2.75, 0.096, 0.117], [2.85, 0.092, 0.112], [2.95, 0.089, 0.108], [3.05, 0.086, 0.104], [3.15, 0.084, 0.101],
  [3.25, 0.082, 0.099], [3.35, 0.08, 0.097], [3.45, 0.079, 0.096], [3.55, 0.078, 0.095], [3.65, 0.078, 0.095], [3.75, 0.078, 0.095],
  [3.85, 0.078, 0.095], [3.95, 0.079, 0.096], [4.05, 0.08, 0.097], [4.15, 0.081, 0.098], [4.25, 0.082, 0.1], [4.35, 0.083, 0.101],
  [4.45, 0.085, 0.103], [4.55, 0.087, 0.105],
];
const aaaaChainPts = [
  [0.0, 0.19], [0.1, 0.2], [0.2, 0.21], [0.3, 0.2], [0.38, 0.22], [0.45, 0.24], [0.5, 0.22], [0.56, 0.25], [0.62, 0.23],
  [0.68, 0.26], [0.74, 0.24], [0.8, 0.25], [0.86, 0.23], [0.92, 0.25], [0.98, 0.23], [1.04, 0.24], [1.1, 0.22], [1.16, 0.23],
  [1.22, 0.21], [1.28, 0.22], [1.34, 0.2], [1.4, 0.21],
];
const aaaoRows = [
  [4.58, 1.0e-4, 1.15e-4], [4.62, 1.05e-4, 1.25e-4, 1.5e-4], [4.66, 1.1e-4, 1.35e-4, 1.7e-4, 2.1e-4],
  [4.7, 1.15e-4, 1.45e-4, 1.85e-4, 2.4e-4, 3.0e-4], [4.74, 1.2e-4, 1.55e-4, 2.0e-4, 2.6e-4, 3.4e-4, 4.2e-4],
  [4.78, 1.25e-4, 1.6e-4, 2.1e-4, 2.8e-4, 3.6e-4, 4.7e-4, 5.8e-4], [4.82, 1.3e-4, 1.7e-4, 2.2e-4, 2.9e-4, 3.8e-4, 5.0e-4, 6.4e-4],
  [4.86, 1.3e-4, 1.7e-4, 2.2e-4, 2.9e-4, 3.8e-4, 5.0e-4, 6.6e-4, 7.4e-4], [4.9, 1.3e-4, 1.7e-4, 2.2e-4, 2.9e-4, 3.8e-4, 5.0e-4, 6.6e-4, 7.6e-4],
  [4.94, 1.3e-4, 1.7e-4, 2.2e-4, 2.9e-4, 3.8e-4, 5.0e-4, 6.6e-4, 7.6e-4], [4.98, 1.25e-4, 1.6e-4, 2.1e-4, 2.8e-4, 3.7e-4, 4.9e-4, 6.5e-4, 7.6e-4],
  [5.02, 1.2e-4, 1.55e-4, 2.0e-4, 2.6e-4, 3.5e-4, 4.8e-4, 6.4e-4, 7.5e-4], [5.06, 1.15e-4, 1.45e-4, 1.9e-4, 2.4e-4, 3.6e-4, 4.8e-4, 6.3e-4, 7.4e-4],
  [5.1, 1.1e-4, 1.4e-4, 1.8e-4, 2.2e-4, 4.0e-4, 5.0e-4, 6.3e-4, 7.2e-4], [5.14, 1.05e-4, 1.3e-4, 1.65e-4, 2.1e-4, 4.2e-4, 5.2e-4, 6.4e-4],
  [5.18, 1.2e-4, 1.5e-4, 1.9e-4, 2.2e-4],
];
const aaooBandRows = [
  [0.22, 0.0052, 0.0064], [0.26, 0.006, 0.0073], [0.3, 0.0068, 0.0082], [0.35, 0.0076, 0.0092], [0.4, 0.0083, 0.01],
  [0.45, 0.0089, 0.0108], [0.5, 0.0095, 0.0115], [0.55, 0.01, 0.0121], [0.6, 0.0105, 0.0127], [0.65, 0.0109, 0.0132],
  [0.7, 0.0113, 0.0136], [0.75, 0.0116, 0.014], [0.8, 0.0119, 0.0143], [0.85, 0.0122, 0.0146], [0.9, 0.0124, 0.0149],
  [0.95, 0.0126, 0.0152], [1.0, 0.0128, 0.0154], [1.1, 0.0131, 0.0158], [1.2, 0.0134, 0.0161], [1.3, 0.0136, 0.0164],
  [1.4, 0.0138, 0.0166], [1.5, 0.0139, 0.0168], [1.6, 0.014, 0.0169], [1.7, 0.014, 0.0169], [1.8, 0.014, 0.0169],
  [1.9, 0.0139, 0.0168], [2.0, 0.0138, 0.0167], [2.1, 0.0137, 0.0165], [2.2, 0.0135, 0.0163], [2.3, 0.0133, 0.016],
  [2.4, 0.013, 0.0157], [2.5, 0.0127, 0.0153], [2.6, 0.0124, 0.0149], [2.7, 0.012, 0.0145], [2.8, 0.0116, 0.014],
  [2.9, 0.0112, 0.0135], [3.0, 0.0108, 0.013], [3.1, 0.0105, 0.0126], [3.2, 0.0103, 0.0123], [3.3, 0.0102, 0.0121],
  [3.4, 0.0101, 0.012], [3.5, 0.01, 0.0118], [3.6, 0.0099, 0.0116], [3.7, 0.0098, 0.0114], [3.8, 0.0097, 0.0112],
  [3.75, 0.027, 0.024], [3.8, 0.026, 0.022, 0.019], [3.85, 0.0255, 0.0215, 0.0185], [3.9, 0.025, 0.021, 0.018],
  [3.95, 0.0245, 0.0205, 0.0175, 0.015], [4.0, 0.024, 0.02, 0.017, 0.014], [4.05, 0.0235, 0.0195, 0.0165, 0.0135],
  [4.1, 0.023, 0.019, 0.016, 0.013], [4.15, 0.023, 0.019, 0.0155, 0.0125, 0.0105], [4.2, 0.023, 0.019, 0.015, 0.012, 0.01],
  [4.25, 0.0235, 0.019, 0.015, 0.012, 0.0098, 0.008], [4.3, 0.024, 0.019, 0.015, 0.012, 0.0095, 0.0078],
  [4.35, 0.025, 0.0195, 0.0155, 0.012, 0.0095, 0.0076, 0.0062], [4.4, 0.026, 0.02, 0.016, 0.012, 0.0095, 0.0075, 0.006],
  [4.45, 0.028, 0.021, 0.0165, 0.0125, 0.0098, 0.0078, 0.0062, 0.0052], [4.5, 0.03, 0.022, 0.017, 0.013, 0.01, 0.008, 0.0063, 0.005],
  [4.55, 0.027, 0.02, 0.0155, 0.012, 0.0092, 0.0072, 0.0057, 0.0048], [4.6, 0.024, 0.018, 0.014, 0.011, 0.0085, 0.0066, 0.0052],
  [4.65, 0.021, 0.016, 0.0125, 0.0098, 0.0077, 0.006, 0.0048], [4.7, 0.018, 0.014, 0.011, 0.0088, 0.007, 0.0055, 0.0045],
  [4.75, 0.016, 0.0125, 0.01, 0.008, 0.0064, 0.0051, 0.0042], [4.8, 0.014, 0.011, 0.009, 0.0072, 0.0058, 0.0047, 0.0038],
  [4.85, 0.0125, 0.01, 0.0081, 0.0066, 0.0054, 0.0043], [4.9, 0.011, 0.0088, 0.0072, 0.006, 0.005, 0.0037],
  [4.95, 0.0098, 0.0079, 0.0065, 0.0054, 0.0044, 0.0036], [5.0, 0.0085, 0.007, 0.0058, 0.0048, 0.0036],
  [5.05, 0.0075, 0.0062, 0.0051, 0.0041, 0.0033], [5.1, 0.0065, 0.0055, 0.0045, 0.0035, 0.003],
  [5.15, 0.0055, 0.0046, 0.0038, 0.0032], [5.2, 0.0045, 0.0037, 0.003],
];
const aaooLoosePts = [
  [0.0, 0.00035], [0.01, 0.00045], [0.02, 0.0006], [0.03, 0.0008], [0.04, 0.001], [0.05, 0.0013], [0.06, 0.0016],
  [0.08, 0.002], [0.1, 0.0025], [0.12, 0.003], [0.14, 0.0036], [0.16, 0.0043], [0.18, 0.005], [0.2, 0.0056],
  [0.02, 0.0004], [0.04, 0.0007], [0.06, 0.0011], [0.09, 0.0015], [0.12, 0.0021], [0.15, 0.0028], [0.18, 0.0036],
  [0.22, 0.0045], [0.26, 0.0052],
  [0.15, 0.00027], [0.3, 0.00032], [0.45, 0.00041], [0.6, 0.00046], [0.75, 0.00052], [0.9, 0.00058], [1.05, 0.00062],
  [1.2, 0.00068], [1.35, 0.00074], [1.5, 0.00078], [1.65, 0.00085], [1.8, 0.00092], [1.95, 0.00098], [2.1, 0.00106],
  [2.25, 0.00112], [2.4, 0.0012], [2.55, 0.00128], [2.7, 0.00136], [2.85, 0.00148], [3.0, 0.0016], [3.15, 0.0017],
  [3.3, 0.00178], [3.45, 0.00186], [3.6, 0.00195], [3.75, 0.0021], [3.9, 0.0022], [4.05, 0.0024], [4.2, 0.0026],
  [4.35, 0.0028], [4.5, 0.003], [4.65, 0.0032], [4.8, 0.0034], [4.95, 0.0036], [5.1, 0.0037],
  [0.8, 0.00075], [0.95, 0.00082], [1.1, 0.0009], [1.25, 0.001], [1.4, 0.00112], [1.55, 0.00122], [1.7, 0.00132],
  [1.85, 0.00142], [2.0, 0.00155], [2.15, 0.00165], [2.3, 0.00172], [2.45, 0.00182], [2.6, 0.0019], [2.75, 0.0021],
  [2.9, 0.0022], [3.05, 0.0023], [3.2, 0.0025], [3.35, 0.0027], [3.5, 0.0029], [3.65, 0.0031], [3.8, 0.0033],
  [3.95, 0.0036], [4.1, 0.0039], [4.25, 0.0042], [4.4, 0.0044], [4.55, 0.0046],
];

// ---------- helpers ----------
const pts = (rows: number[][]) => rows.flatMap((r) => r.slice(1).map((y) => [r[0], y]));

const grids = [
  { left: 118, top: 22, width: 246, height: 271 },
  { left: 379, top: 22, width: 246, height: 271 },
  { left: 118, top: 331, width: 246, height: 272 },
  { left: 379, top: 331, width: 246, height: 272 },
];

function sc(name: string, gi: number, data: number[][], symbol: string, size: number, color: string, filled: boolean, bw = 1.2) {
  return {
    type: 'scatter', name, xAxisIndex: gi, yAxisIndex: gi, data, symbol, symbolSize: size, silent: true,
    large: false, progressive: 0,
    itemStyle: filled
      ? { color, opacity: 1, borderColor: color, borderWidth: 0.6 }
      : { color: 'rgba(0,0,0,0)', borderColor: color, borderWidth: bw, opacity: 1 },
    emphasis: { disabled: true },
  };
}

function tickData() {
  const d: number[][] = [];
  xTickLabels.forEach((v) => d.push([v, Y_MIN, 0]));
  xMinorTicks.forEach((v) => d.push([v, Y_MIN, 1]));
  yTickExponents.forEach((e) => {
    d.push([X_MIN, Math.pow(10, e), 2]);
    yMinorMantissas.forEach((m) => {
      const v = m * Math.pow(10, e);
      if (v < Y_MAX) d.push([X_MIN, v, 3]);
    });
  });
  return d;
}

function tickSeries(gi: number) {
  return {
    type: 'custom', xAxisIndex: gi, yAxisIndex: gi, silent: true, z: 10, clip: false,
    data: tickData(),
    encode: { x: 0, y: 1 },
    renderItem: (params: any, api: any) => {
      const x = api.value(0), y = api.value(1), k = api.value(2);
      const bl = api.coord([X_MIN, Y_MIN]);
      const tr = api.coord([X_MAX, Y_MAX]);
      const st = { stroke: '#000', lineWidth: 1 };
      if (k < 2) {
        const len = k === 0 ? 6 : 3.5;
        const px = Math.round(api.coord([x, Y_MIN])[0]) + 0.5;
        return { type: 'group', children: [
          { type: 'line', shape: { x1: px, y1: bl[1], x2: px, y2: bl[1] - len }, style: st },
          { type: 'line', shape: { x1: px, y1: tr[1], x2: px, y2: tr[1] + len }, style: st },
        ] };
      }
      const len = k === 2 ? 6 : 3.5;
      const py = Math.round(api.coord([X_MIN, y])[1]) + 0.5;
      return { type: 'group', children: [
        { type: 'line', shape: { x1: bl[0], y1: py, x2: bl[0] + len, y2: py }, style: st },
        { type: 'line', shape: { x1: tr[0], y1: py, x2: tr[0] - len, y2: py }, style: st },
      ] };
    },
  };
}

const hollow = (c: string, bw = 2.4) => ({ color: 'rgba(0,0,0,0)', borderColor: c, borderWidth: bw });

function legend(left: number, top: number, size: number, data: any[], pad = 0, gap = 23) {
  return {
    left, top, itemWidth: size, itemHeight: size, itemGap: gap, padding: 0, selectedMode: false, orient: 'horizontal',
    textStyle: { fontSize: 15.5, fontFamily: FONT, color: '#000', padding: [0, 0, 0, pad] }, data,
  };
}

function yLabel(x: number, yBottom: number, sub: string) {
  const f = 21, s = 14.7;
  const mY = -0.346 * f;
  return {
    type: 'group', x, y: yBottom, rotation: Math.PI / 2, silent: true,
    children: [
      { type: 'text', style: { text: 'τ', x: 0, y: mY, fontSize: f, fontFamily: FONT, fill: '#000', verticalAlign: 'middle', align: 'left' } },
      { type: 'text', style: { text: '−1', x: 12.5, y: -8.5 - 0.346 * s, fontSize: s, fontFamily: FONT, fill: '#000', verticalAlign: 'middle', align: 'left' } },
      { type: 'text', style: { text: sub, x: 12.5, y: 5 - 0.346 * s, fontSize: s, fontFamily: FONT, fill: '#000', verticalAlign: 'middle', align: 'left' } },
      { type: 'text', style: {
        text: '{a|(ps}{s|−1}{a|)}', x: 47, y: 3.23, fontFamily: FONT, fill: '#000', verticalAlign: 'bottom', align: 'left',
        rich: {
          a: { fontSize: f, lineHeight: f, padding: [3, 0, 0, 0], verticalAlign: 'bottom', fontFamily: FONT, fill: '#000' },
          s: { fontSize: s, lineHeight: 14, verticalAlign: 'top', fontFamily: FONT, fill: '#000' },
        },
      } },
    ],
  };
}

function buildOption() {
  const xAxes = grids.map((_, i) => ({
    type: 'value', gridIndex: i, min: X_MIN, max: X_MAX,
    axisLine: { show: false }, axisTick: { show: false }, splitLine: { show: false },
    axisLabel: {
      margin: 4, fontSize: 19, fontFamily: FONT, color: '#000',
      formatter: (v: number) => (xTickLabels.some((t) => Math.abs(t - v) < 1e-6) ? String(Math.round(v)) : ''),
    },
  }));
  const yAxes = grids.map((_, i) => ({
    type: 'log', logBase: 10, gridIndex: i, min: Y_MIN, max: Y_MAX,
    axisLine: { show: false }, axisTick: { show: false }, splitLine: { show: false }, minorTick: { show: false },
    axisLabel: {
      show: i === 0 || i === 2, margin: 5, showMaxLabel: false,
      formatter: (v: number) => {
        const l = Math.log10(v);
        const e = Math.round(l);
        if (Math.abs(l - e) > 0.01 || !yTickExponents.includes(e)) return '';
        return `{b|10}{s|${e < 0 ? '−' : ''}${Math.abs(e)}}`;
      },
      rich: {
        b: { fontSize: 19, lineHeight: 19, padding: [3, 0, 0, 0], verticalAlign: 'bottom', fontFamily: FONT, color: '#000' },
        s: { fontSize: 13.3, lineHeight: 13, verticalAlign: 'top', fontFamily: FONT, color: '#000' },
      },
    },
  }));

  const total3 = [...pts(aaaBandRows), ...aaaChainPts];
  const total4 = [...pts(aaaaBandRows), ...aaaaChainPts];

  const series: any[] = [
    sc('normal', 0, pts(n3BandRows), 'circle', 8, BLUE, true),
    sc('normal', 0, n3LoosePts, 'circle', 8, BLUE, false, 1.3),
    sc('Umklapp', 0, pts(u3BandRows), 'triangle', 8.5, RED, true),
    sc('Umklapp', 0, u3LoosePts, 'triangle', 8.5, RED, false, 1.3),

    sc('Total', 1, total3, 'diamond', 10, BLUE, true),
    sc('AAA', 1, pts(aaaBandRows), 'circle', 7, RED, true),
    sc('AAA', 1, aaaChainPts, 'circle', 7, RED, false, 1.4),
    sc('AOO', 1, pts(aooBandRows), 'rect', 7, GREEN, false, 1.5),
    sc('AOO', 1, aooLoosePts, 'rect', 7, GREEN, false, 1.5),

    sc('normal', 2, pts(n4BandRows), 'circle', 7.5, BLUE, true),
    sc('normal', 2, n4LoosePts, 'circle', 7.5, BLUE, false, 1.3),
    sc('Umklapp', 2, pts(u4BandRows), 'triangle', 8.5, RED, true),
    sc('Umklapp', 2, u4LoosePts, 'triangle', 8, RED, false, 1.2),

    sc('Total', 3, total4, 'diamond', 9.5, BLUE, true),
    sc('AAAA', 3, pts(aaaaBandRows), 'circle', 6.5, RED, true),
    sc('AAAA', 3, aaaaChainPts, 'circle', 6.5, RED, false, 1.3),
    sc('AAAO', 3, pts(aaaoRows), 'rect', 9, GREEN, true),
    sc('AAOO', 3, pts(aaooBandRows), RTRI, 7, ORANGE, true),
    sc('AAOO', 3, aaooLoosePts, RTRI, 6, ORANGE, false, 1),
    tickSeries(0), tickSeries(1), tickSeries(2), tickSeries(3),
  ];

  const legends = [
    legend(140.7, 31.3, 12, [
      { name: 'normal', icon: 'circle', itemStyle: hollow(BLUE) },
      { name: 'Umklapp', icon: 'triangle', itemStyle: hollow(RED) },
    ], 4, 27),
    legend(140.7, 341.3, 12, [
      { name: 'normal', icon: 'circle', itemStyle: hollow(BLUE) },
      { name: 'Umklapp', icon: 'triangle', itemStyle: hollow(RED) },
    ], 4, 27),
    legend(429.5, 28.5, 17, [{ name: 'Total', icon: 'diamond', itemStyle: { color: BLUE, borderWidth: 0 } }], 1),
    legend(517, 31, 12, [{ name: 'AAA', icon: 'circle', itemStyle: hollow(RED) }], 1),
    legend(431, 54, 12, [{ name: 'AOO', icon: 'rect', itemStyle: hollow(GREEN) }], 4),
    legend(424, 338.5, 17, [{ name: 'Total', icon: 'diamond', itemStyle: { color: BLUE, borderWidth: 0 } }], 0),
    legend(513, 341, 12, [{ name: 'AAAA', icon: 'circle', itemStyle: hollow(RED) }], 2),
    legend(426, 363, 12, [{ name: 'AAAO', icon: 'rect', itemStyle: hollow(GREEN) }], 0),
    legend(513, 363, 12, [{ name: 'AAOO', icon: RTRI, itemStyle: hollow(ORANGE) }], 2),
  ];

  return {
    animation: false,
    backgroundColor: '#fff',
    grid: grids.map((g) => ({ ...g, show: true, borderColor: '#000', borderWidth: 1, backgroundColor: 'transparent', containLabel: false })),
    xAxis: xAxes,
    yAxis: yAxes,
    legend: legends,
    series,
    graphic: [
      { type: 'text', silent: true, style: { text: '(a)', x: 12, y: 20, fontSize: 23, fontFamily: FONT, fill: '#000', verticalAlign: 'middle', align: 'left' } },
      { type: 'text', silent: true, style: { text: '(b)', x: 12, y: 329, fontSize: 23, fontFamily: FONT, fill: '#000', verticalAlign: 'middle', align: 'left' } },
      { type: 'text', silent: true, style: { text: 'Frequency (THz)', x: 346.5, y: 641.5, fontSize: 21, fontFamily: FONT, fill: '#000', verticalAlign: 'middle', align: 'center' } },
      yLabel(53, 213, '3ph'),
      yLabel(53, 508, '4ph'),
    ],
  };
}

export default function App() {
  const ref = useRef<HTMLDivElement>(null);
  useEffect(() => {
    const chart = echarts.init(ref.current as HTMLDivElement, null, { renderer: 'svg' });
    chart.setOption(buildOption() as any);
    return () => chart.dispose();
  }, []);
  return <div ref={ref} style={{ position: 'fixed', left: 0, top: 0, width: 631, height: 654, background: '#fff' }} />;
}
